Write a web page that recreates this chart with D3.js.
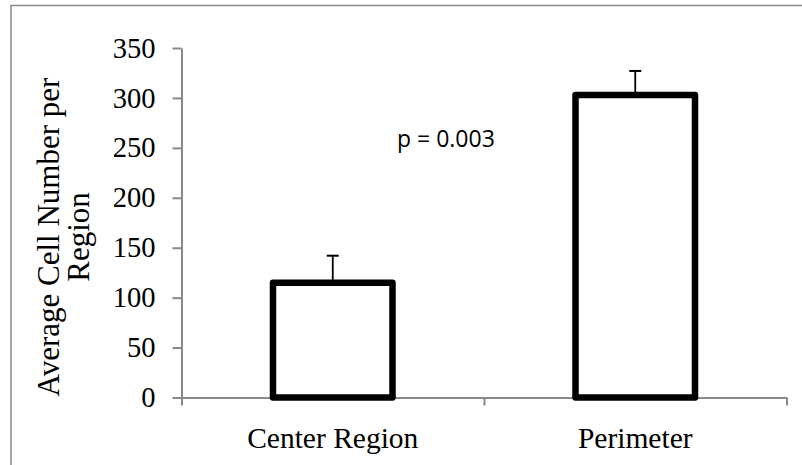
<!DOCTYPE html>
<html>
<head>
<meta charset="utf-8">
<script src="https://cdn.jsdelivr.net/npm/d3@7"></script>
<style>
  body { margin: 0; background: #fff; }
  .axis path, .axis line { stroke: #898989; stroke-width: 2; }
  .axis text { font-family: "Liberation Serif", "Times New Roman", serif; fill: #000; }
</style>
</head>
<body>
<div id="chart"></div>
<script>
// chart values
const categories = ['Center Region', 'Perimeter'];
const means = [115, 303];
const errors = [27, 24];
const yTicks = [0, 50, 100, 150, 200, 250, 300, 350];
const yTitle = ['Average Cell Number per', 'Region'];
const note = 'p = 0.003';

const W = 802, H = 465;
const plot = { left: 181.5, right: 786.5, top: 48, bottom: 397.5 };

const data = categories.map((c, i) => ({ label: c, value: means[i], err: errors[i] }));

const svg = d3.select('#chart')
  .append('svg')
  .attr('width', W)
  .attr('height', H);

// outer frame (only top and left edges are visible)
svg.append('rect')
  .attr('x', 11)
  .attr('y', 5.5)
  .attr('width', W + 20)
  .attr('height', H + 20)
  .attr('fill', 'none')
  .attr('stroke', '#898989')
  .attr('stroke-width', 1.5);

const x = d3.scaleBand()
  .domain(categories)
  .range([plot.left, plot.right])
  .padding(0);

// category boundaries, for the tick marks between categories
const xEdge = d3.scaleLinear()
  .domain([0, categories.length])
  .range([plot.left, plot.right]);

const y = d3.scaleLinear()
  .domain([0, 350])
  .range([plot.bottom, plot.top]);

// y axis
svg.append('g')
  .attr('class', 'axis')
  .attr('transform', `translate(${plot.left},0)`)
  .call(d3.axisLeft(y).tickValues(yTicks).tickSize(9).tickSizeOuter(0).tickPadding(17))
  .call((g) => g.selectAll('text').style('font-size', '28.5px'));

// x axis line and ticks between categories
svg.append('g')
  .attr('class', 'axis')
  .attr('transform', `translate(0,${plot.bottom})`)
  .call(d3.axisBottom(xEdge).tickValues(d3.range(categories.length + 1)).tickFormat('').tickSize(8).tickSizeOuter(0));

// category labels
svg.append('g')
  .attr('class', 'axis')
  .attr('transform', `translate(0,${plot.bottom})`)
  .call(d3.axisBottom(x).tickSize(0).tickPadding(30))
  .call((g) => g.select('.domain').remove())
  .call((g) => g.selectAll('text').style('font-size', '29.5px'));

const barW = x.bandwidth() * 0.395;

// error bars (upper half only)
const errG = svg.append('g');
errG.selectAll('line.stem')
  .data(data)
  .enter()
  .append('line')
  .attr('class', 'stem')
  .attr('x1', (d) => x(d.label) + x.bandwidth() / 2)
  .attr('x2', (d) => x(d.label) + x.bandwidth() / 2)
  .attr('y1', (d) => y(d.value))
  .attr('y2', (d) => y(d.value + d.err))
  .attr('stroke', '#000')
  .attr('stroke-width', 1.8);

errG.selectAll('line.cap')
  .data(data)
  .enter()
  .append('line')
  .attr('class', 'cap')
  .attr('x1', (d) => x(d.label) + x.bandwidth() / 2 - 6)
  .attr('x2', (d) => x(d.label) + x.bandwidth() / 2 + 6)
  .attr('y1', (d) => y(d.value + d.err))
  .attr('y2', (d) => y(d.value + d.err))
  .attr('stroke', '#000')
  .attr('stroke-width', 2);

// bars
svg.append('g')
  .selectAll('rect')
  .data(data)
  .enter()
  .append('rect')
  .attr('x', (d) => x(d.label) + (x.bandwidth() - barW) / 2)
  .attr('y', (d) => y(d.value))
  .attr('width', barW)
  .attr('height', (d) => y(0) - y(d.value))
  .attr('fill', '#fff')
  .attr('stroke', '#000')
  .attr('stroke-width', 6.5)
  .attr('stroke-linejoin', 'round');

// y axis title, two lines
const title = svg.append('text')
  .attr('transform', `translate(58.5,${237}) rotate(-90)`)
  .attr('text-anchor', 'middle')
  .style('font-family', '"Liberation Serif", "Times New Roman", serif')
  .style('font-size', '31px')
  .attr('fill', '#000');

title.selectAll('tspan')
  .data(yTitle)
  .enter()
  .append('tspan')
  .attr('x', 0)
  .attr('y', (d, i) => i * 30.5)
  .text((d) => d);

// p-value note
svg.append('text')
  .attr('x', 397)
  .attr('y', 147)
  .style('font-family', '"Open Sans", "Liberation Sans", sans-serif')
  .style('font-size', '23px')
  .attr('fill', '#000')
  .text(note);
</script>
</body>
</html>
